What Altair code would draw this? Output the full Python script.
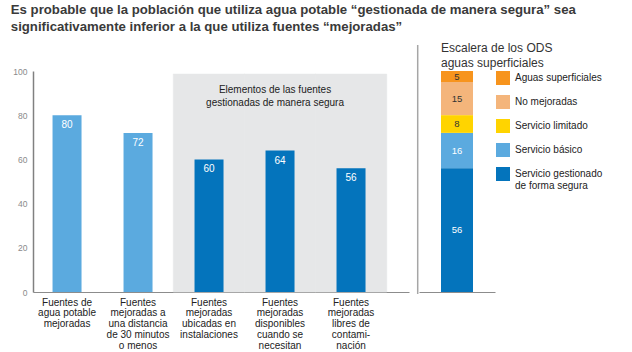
import altair as alt
import pandas as pd

# ---------------- data ----------------
categories = [
    "Fuentes de|agua potable|mejoradas",
    "Fuentes|mejoradas a|una distancia|de 30 minutos|o menos",
    "Fuentes|mejoradas|ubicadas en|instalaciones",
    "Fuentes|mejoradas|disponibles|cuando se|necesitan",
    "Fuentes|mejoradas|libres de|contami-|nación",
]
values = [80, 72, 60, 64, 56]
groups = ["mejoradas", "mejoradas", "segura", "segura", "segura"]

box_categories = categories[2:]
box_top = [98.6, 98.6, 98.6]
box_label = "Elementos de las fuentes\ngestionadas de manera segura"

ladder_names = ["Aguas superficiales", "No mejoradas", "Servicio limitado",
                "Servicio básico", "Servicio gestionado|de forma segura"]
ladder_values = [5, 15, 8, 16, 56]
ladder_order = [5, 4, 3, 2, 1]
ladder_colors = ["#F7941D", "#F4B57B", "#FFD400", "#5BAADF", "#0474BC"]

title_lines = ["Es probable que la población que utiliza agua potable “gestionada de manera segura” sea",
               "significativamente inferior a la que utiliza fuentes “mejoradas”"]
ladder_title = ["Escalera de los ODS", "aguas superficiales"]

FONT = "Liberation Sans"
LIGHT = "#5BAADF"
DARK = "#0474BC"

df = pd.DataFrame({"cat": categories, "val": values, "grp": groups})
box_df = pd.DataFrame({"cat": box_categories, "top": box_top})

xscale = alt.Scale(domain=categories, paddingInner=0.5915, paddingOuter=0.4437, align=0.31)
yscale = alt.Scale(domain=[0, 100])

x_enc = alt.X("cat:N", scale=xscale, sort=categories,
              axis=alt.Axis(title=None, labelAngle=0, ticks=False, labelExpr="split(datum.label, '|')",
                            labelFont=FONT, labelFontSize=10, labelColor="#222222", labelLineHeight=10.8,
                            labelPadding=5, domainColor="#8c8c8c", domainWidth=1.2, labelLimit=200))

box = alt.Chart(box_df).mark_bar(size=71.5, color="#E6E7E8", stroke="#E6E7E8", strokeWidth=0.6).encode(
    x=x_enc,
    y=alt.Y("top:Q", scale=yscale,
            axis=alt.Axis(title=None, values=[0, 20, 40, 60, 80, 100], tickSize=0, grid=False,
                          labelFont=FONT, labelFontSize=8.5, labelColor="#8a8a8a", labelPadding=6,
                          domainColor="#808080", domainWidth=1.5)),
)

box_text = alt.Chart(pd.DataFrame({"cat": [categories[3]], "t": [box_label]})).mark_text(
    font=FONT, fontSize=10, color="#222222", baseline="top", align="center", lineBreak="\n",
    lineHeight=13, dx=-5
).encode(x=alt.X("cat:N", scale=xscale, sort=categories), y=alt.value(14), text="t:N")

bars = alt.Chart(df).mark_bar(size=29).encode(
    x=alt.X("cat:N", scale=xscale, sort=categories),
    y=alt.Y("val:Q", scale=yscale),
    color=alt.Color("grp:N", scale=alt.Scale(domain=["mejoradas", "segura"], range=[LIGHT, DARK]), legend=None),
)
bar_text = alt.Chart(df).mark_text(font=FONT, fontSize=10, color="white", baseline="middle", dy=10).encode(
    x=alt.X("cat:N", scale=xscale, sort=categories),
    y=alt.Y("val:Q", scale=yscale),
    text="val:Q",
)

sep = alt.Chart(pd.DataFrame({"a": [0]})).mark_rule(color="#a6a6a6", strokeWidth=1.5).encode(
    x=alt.value(384.7), y=alt.value(-26), y2=alt.value(223)
)

left = alt.layer(box, box_text, bars, bar_text, sep).properties(width=376, height=221)

# ---------------- right panel ----------------
ldf = pd.DataFrame({"name": ladder_names, "v": ladder_values, "o": ladder_order, "g": ["ODS"] * 5})

rscale = alt.Scale(paddingInner=0, paddingOuter=0.6875)
rx = alt.X("g:N", scale=rscale,
           axis=alt.Axis(title=None, labels=False, ticks=False, domainColor="#8c8c8c", domainWidth=1.2))

stack = alt.Chart(ldf).mark_bar(size=32, orient="vertical").encode(
    x=rx,
    y=alt.Y("v:Q", stack="zero", scale=yscale, axis=None),
    order=alt.Order("o:Q"),
    color=alt.Color("name:N", sort=ladder_names,
                    scale=alt.Scale(domain=ladder_names, range=ladder_colors),
                    legend=alt.Legend(title=None, orient="right", offset=1, padding=0,
                                      symbolType="square", symbolSize=196, symbolStrokeWidth=0,
                                      labelFont=FONT, labelFontSize=10, labelColor="#222222",
                                      labelExpr="split(datum.label, '|')", rowPadding=10,
                                      labelOffset=5, labelLimit=200)),
)

stack_text = alt.Chart(ldf).transform_stack(
    stack="v", groupby=["g"], as_=["v0", "v1"], sort=[alt.SortField("o")]
).transform_calculate(mid="(datum.v0 + datum.v1) / 2").mark_text(
    font=FONT, fontSize=9.5, baseline="middle"
).encode(
    x=alt.X("g:N", scale=rscale),
    y=alt.Y("mid:Q", scale=yscale),
    text="v:Q",
    color=alt.condition("datum.o <= 2", alt.value("#ffffff"), alt.value("#333333")),
)

rtitle = alt.Chart(pd.DataFrame({"t": ["\n".join(ladder_title)]})).mark_text(
    font=FONT, fontSize=12, color="#333333", align="left", baseline="alphabetic", lineBreak="\n",
    lineHeight=14.5
).encode(x=alt.value(22), y=alt.value(-19), text="t:N")

right = alt.layer(rtitle, stack, stack_text).properties(width=76, height=221)

chart = alt.hconcat(left, right, spacing=0).resolve_scale(color="independent").properties(
    title=alt.TitleParams(title_lines, anchor="start", font=FONT, fontSize=13.2, fontWeight="bold",
                          color="#3a3a3a", lineHeight=16.5, offset=8, dx=-2)
).configure(padding={"left": 10, "top": 3, "right": 0, "bottom": 0}).configure_view(stroke=None)

chart.save("out.html", embed_options={"renderer": "svg", "actions": False})
